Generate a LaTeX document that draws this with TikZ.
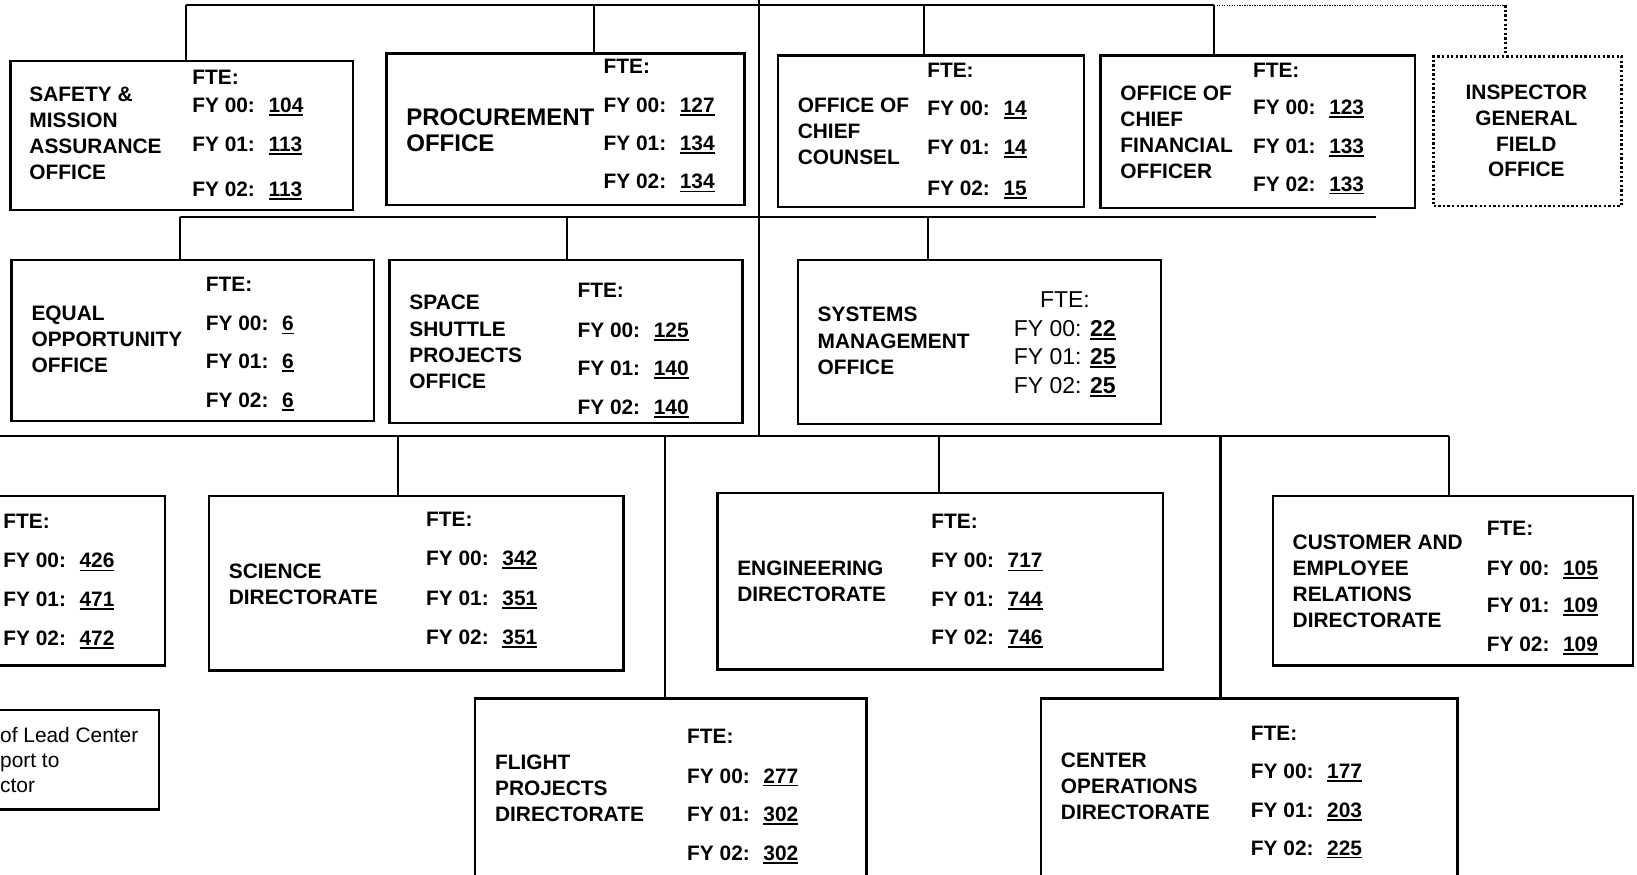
\documentclass[tikz,border=0pt]{standalone}
\usepackage{fontspec}
\setmainfont{Liberation Sans}
\newcommand\ulnum[1]{\setbox0\hbox{#1}\rlap{\rule[-3.2pt]{\wd0}{1.7pt}}\box0}
\newcommand\ftecol[9]{%
  \node[fte] (#1f) at (#2,{#3+7}) {FTE:};
  \node[fte] (#1a) at (#2,{#4+7}) {FY 00:\hspace{0.65em}\ulnum{#7}};
  \node[fte] (#1b) at (#2,{#5+7}) {FY 01:\hspace{0.65em}\ulnum{#8}};
  \node[fte] (#1c) at (#2,{#6+7}) {FY 02:\hspace{0.65em}\ulnum{#9}};
}
\tikzset{
  box/.style={draw, line width=2.4pt, anchor=north west, inner sep=0pt},
  dotbox/.style={draw, line width=2.4pt, dash pattern=on 2.2pt off 2.2pt, anchor=north west, inner sep=0pt},
  conn/.style={line width=2pt},
  lbl/.style={font=\bfseries\fontsize{20}{25}\selectfont, align=left, anchor=west, inner sep=0pt},
  fte/.style={font=\bfseries\fontsize{20}{24}\selectfont, anchor=base west, inner sep=0pt},
  plain/.style={font=\fontsize{22}{27}\selectfont, inner sep=0pt},
}
\begin{document}
\begin{tikzpicture}[x=1pt,y=-1pt]
\useasboundingbox (0,0) rectangle (1568,838);
\clip (0,0) rectangle (1568,838);
% ---------- row 1 ----------
\node[box, minimum width=328pt, minimum height=143pt] (safety) at (9,57) {};
\node[lbl] (safetyL) at (28,127.5) {SAFETY \&\\MISSION\\ASSURANCE\\OFFICE};
\ftecol{sa}{184}{74}{101}{138}{181}{104}{113}{113}

\node[box, minimum width=343pt, minimum height=145pt] (proc) at (369,50) {};
\node[lbl, font=\bfseries\fontsize{23}{25}\selectfont] (procL) at (389,124.5) {PROCUREMENT\\OFFICE};
\ftecol{pr}{578}{63}{101}{137}{174}{127}{134}{134}

\node[box, minimum width=293pt, minimum height=145pt] (counsel) at (744,52) {};
\node[lbl] (counselL) at (764,125.5) {OFFICE OF\\CHIEF\\COUNSEL};
\ftecol{cc}{888}{67}{104}{141}{180}{14}{14}{15}

\node[box, minimum width=301pt, minimum height=146pt] (cfo) at (1053,52) {};
\node[lbl] (cfoL) at (1073,126.5) {OFFICE OF\\CHIEF\\FINANCIAL\\OFFICER};
\ftecol{cf}{1200}{67}{103}{140}{176}{123}{133}{133}

\node[dotbox, minimum width=180pt, minimum height=143pt] (ig) at (1372,53) {};
\node[lbl, align=center, anchor=center, font=\bfseries\fontsize{20}{24.5}\selectfont] (igL) at (1462,125.5) {INSPECTOR\\GENERAL\\FIELD\\OFFICE};

% ---------- row 2 ----------
\node[box, minimum width=347pt, minimum height=154pt] (eo) at (10,248) {};
\node[lbl] (eoL) at (30,325) {EQUAL\\OPPORTUNITY\\OFFICE};
\ftecol{eq}{197}{272}{310}{346}{383}{6}{6}{6}

\node[box, minimum width=338pt, minimum height=156pt] (ss) at (372,248) {};
\node[lbl] (ssL) at (392,327.5) {SPACE\\SHUTTLE\\PROJECTS\\OFFICE};
\ftecol{sh}{553}{278}{316}{353}{390}{125}{140}{140}

\node[box, minimum width=348pt, minimum height=157pt] (sm) at (763,248) {};
\node[lbl] (smL) at (783,326.5) {SYSTEMS\\MANAGEMENT\\OFFICE};
\node[plain, anchor=base] (smf) at (1020,295) {FTE:};
\node[plain, anchor=base west] (sma) at (971,322) {FY 00: \ulnum{\bfseries 22}};
\node[plain, anchor=base west] (smb) at (971,349) {FY 01: \ulnum{\bfseries 25}};
\node[plain, anchor=base west] (smc) at (971,377) {FY 02: \ulnum{\bfseries 25}};

% ---------- row 3 ----------
\node[box, minimum width=162pt, minimum height=162pt] (lead) at (-5,474) {};
\ftecol{ld}{3}{499}{537}{574}{611}{426}{471}{472}

\node[box, minimum width=397pt, minimum height=167pt] (sci) at (199,474) {};
\node[lbl] (sciL) at (219,559.5) {SCIENCE\\DIRECTORATE};
\ftecol{sc}{408}{497}{535}{573}{610}{342}{351}{351}

\node[box, minimum width=427pt, minimum height=169pt] (eng) at (686,471) {};
\node[lbl] (engL) at (706,557) {ENGINEERING\\DIRECTORATE};
\ftecol{en}{892}{499}{537}{574}{610}{717}{744}{746}

\node[box, minimum width=345pt, minimum height=162pt] (cust) at (1218,474) {};
\node[lbl] (custL) at (1238,557) {CUSTOMER AND\\EMPLOYEE\\RELATIONS\\DIRECTORATE};
\ftecol{cu}{1424}{506}{544}{580}{617}{105}{109}{109}

% ---------- row 4 ----------
\node[box, minimum width=156pt, minimum height=95pt] (legend) at (-5,679) {};
\node[plain, font=\fontsize{20}{24}\selectfont, align=left, anchor=west] (legendL) at (0,728) {of Lead Center\\port to\\ctor};

\node[box, minimum width=375pt, minimum height=200pt] (flight) at (454,668) {};
\node[lbl] (flightL) at (474,755) {FLIGHT\\PROJECTS\\DIRECTORATE};
\ftecol{fl}{658}{705}{743}{780}{817}{277}{302}{302}

\node[box, minimum width=399pt, minimum height=200pt] (cops) at (996,668) {};
\node[lbl] (copsL) at (1016,753.5) {CENTER\\OPERATIONS\\DIRECTORATE};
\ftecol{co}{1198}{702}{739}{776}{812}{177}{203}{225}

% ---------- connectors ----------
\coordinate (spineTop) at (727,-2);
\coordinate (spineBot) at (727,418);
\draw[conn] (spineTop) -- (spineBot);

\coordinate (j1) at (178,5);
\coordinate (j2) at (569,5);
\coordinate (j3) at (885,5);
\coordinate (j4) at (1163,5);
\coordinate (j5) at (1442,5);
\draw[conn] (j1) -- (j4);
\draw[conn] (j1) -- (j1 |- safety.north);
\draw[conn] (j2) -- (j2 |- proc.north);
\draw[conn] (j3) -- (j3 |- counsel.north);
\draw[conn] (j4) -- (j4 |- cfo.north);
\draw[line width=1.2pt, dash pattern=on 1.2pt off 1.2pt] (j4) -- (j5);
\draw[line width=2.4pt, dash pattern=on 2.2pt off 2.2pt] (j5) -- (j5 |- ig.north);

\coordinate (k1) at (172,208);
\coordinate (k2) at (543,208);
\coordinate (k3) at (889,208);
\coordinate (k4) at (1318,208);
\draw[conn] (k1) -- (k4);
\draw[conn] (k1) -- (k1 |- eo.north);
\draw[conn] (k2) -- (k2 |- ss.north);
\draw[conn] (k3) -- (k3 |- sm.north);

\coordinate (m0) at (-5,418);
\coordinate (m1) at (381,418);
\coordinate (m2) at (637,418);
\coordinate (m3) at (899,418);
\coordinate (m4) at (1169,418);
\coordinate (m5) at (1388,418);
\draw[conn] (m0) -- (m5);
\draw[conn] (m1) -- (m1 |- sci.north);
\draw[conn] (m2) -- (m2 |- flight.north);
\draw[conn] (m3) -- (m3 |- eng.north);
\draw[conn] (m4) -- (m4 |- cops.north);
\draw[conn] (m5) -- (m5 |- cust.north);
\end{tikzpicture}
\end{document}
